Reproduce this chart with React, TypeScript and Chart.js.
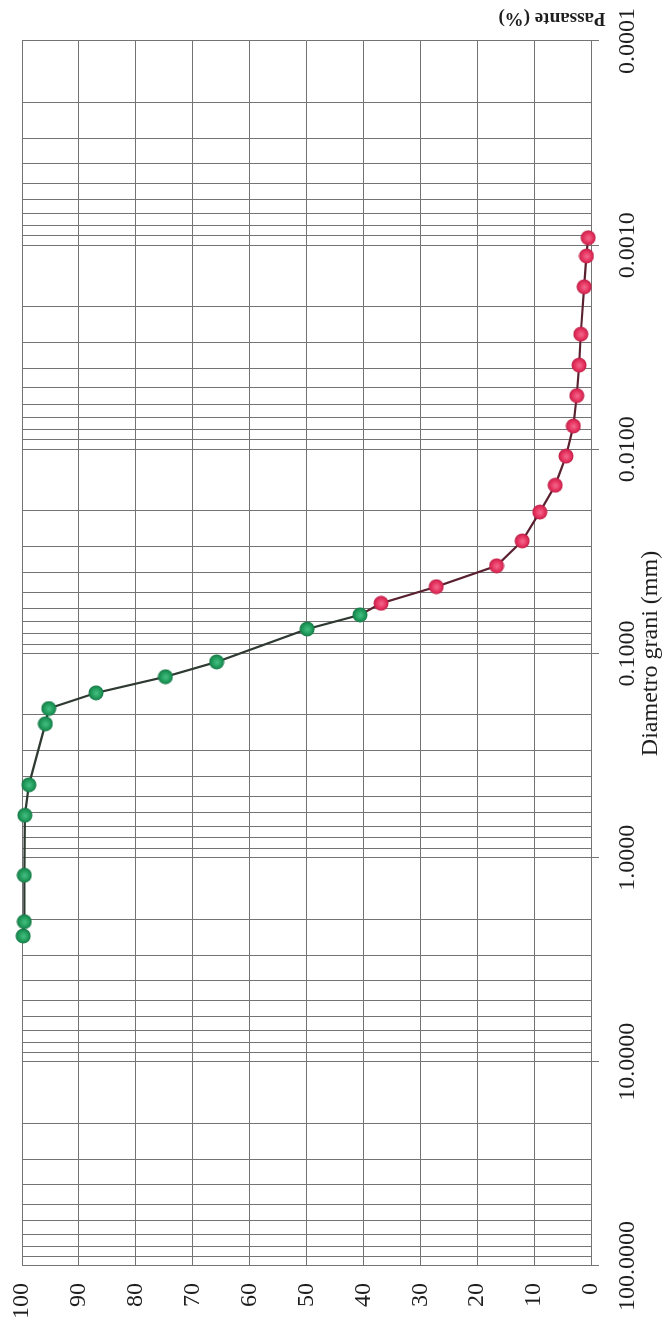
import { useEffect, useRef } from 'react';
import { Chart, registerables } from 'chart.js';

Chart.register(...registerables);

// Sieve analysis: grain diameter (mm) and passing (%)
const sieveDiameter = [2.42, 2.06, 1.22, 0.62, 0.44, 0.221, 0.186, 0.156, 0.13, 0.11, 0.0759, 0.0647];
const sievePassing = [99.8, 99.6, 99.6, 99.5, 98.8, 95.9, 95.3, 87.0, 74.8, 65.8, 49.9, 40.6];

// Sedimentation analysis: grain diameter (mm) and passing (%)
const hydroDiameter = [0.0568, 0.0471, 0.0372, 0.0281, 0.0203, 0.015, 0.0108, 0.00769, 0.00546, 0.00387, 0.00273, 0.0016, 0.00113, 0.00092];
const hydroPassing = [36.9, 27.2, 16.6, 12.1, 9.0, 6.3, 4.4, 3.1, 2.5, 2.1, 1.8, 1.2, 0.8, 0.5];

// Axis ticks
const diameterDecades = [100, 10, 1, 0.1, 0.01, 0.001, 0.0001];
const diameterLabels = ['100.0000', '10.0000', '1.0000', '0.1000', '0.0100', '0.0010', '0.0001'];
const decadeSteps = [1, 2, 3, 4, 5, 6, 7, 8, 9];
const passingTicks = [0, 10, 20, 30, 40, 50, 60, 70, 80, 90, 100];

const W = 1328;
const H = 665;
const GRID = '#737373';
const TEXT = '#1e1e1e';
const FONT = 'Liberation Serif';

function ball(light: string, base: string, dark: string): HTMLCanvasElement {
  const c = document.createElement('canvas');
  c.width = 16;
  c.height = 16;
  const g = c.getContext('2d')!;
  const grad = g.createRadialGradient(7.5, 8.5, 0.5, 8, 8, 8);
  grad.addColorStop(0, light);
  grad.addColorStop(0.6, base);
  grad.addColorStop(1, dark);
  g.fillStyle = grad;
  g.beginPath();
  g.arc(8, 8, 7.5, 0, Math.PI * 2);
  g.fill();
  return c;
}

function labelFor(value: number): string {
  for (let i = 0; i < diameterDecades.length; i++) {
    if (Math.abs(Math.log10(value) - Math.log10(diameterDecades[i])) < 1e-6) return diameterLabels[i];
  }
  return '';
}

const passanteTitle = {
  id: 'passanteTitle',
  afterDraw(chart: any) {
    const ctx = chart.ctx;
    ctx.save();
    ctx.translate(1310, 552);
    ctx.rotate(-Math.PI / 2);
    ctx.font = `bold 19px "${FONT}"`;
    ctx.fillStyle = TEXT;
    ctx.textAlign = 'center';
    ctx.textBaseline = 'middle';
    ctx.fillText('Passante (%)', 0, 0);
    ctx.restore();
  },
};

export default function App() {
  const ref = useRef<HTMLCanvasElement>(null);

  useEffect(() => {
    document.body.style.overflow = 'hidden';
    const green = ball('#43bd7f', '#1f9a5a', '#137040');
    const red = ball('#f2658a', '#e5305c', '#b51d45');

    const diam = [...sieveDiameter, ...hydroDiameter];
    const pass = [...sievePassing, ...hydroPassing];
    const points = diam.map((d, i) => ({ x: d, y: pass[i] }));
    const styles = diam.map((_, i) => (i < sieveDiameter.length ? green : red));

    const gridValues: number[] = [];
    diameterDecades
      .slice()
      .reverse()
      .forEach((d, k, arr) => {
        if (k === arr.length - 1) {
          gridValues.push(d);
          return;
        }
        decadeSteps.forEach((s) => gridValues.push(+(d * s).toPrecision(6)));
      });

    const chart = new Chart(ref.current!, {
      type: 'line',
      data: {
        datasets: [
          {
            data: points,
            borderWidth: 2.2,
            borderColor: '#2f3a33',
            segment: {
              borderColor: (c: any) => (c.p1DataIndex >= sieveDiameter.length ? '#5a2131' : '#2f3a33'),
            },
            pointStyle: styles as any,
            pointRadius: 7.5,
            tension: 0,
            clip: false as any,
          },
        ],
      },
      options: {
        animation: false,
        responsive: false,
        devicePixelRatio: 1,
        layout: { padding: { top: 22, right: 41, left: 0, bottom: 0 } },
        plugins: { legend: { display: false }, tooltip: { enabled: false } },
        scales: {
          x: {
            type: 'logarithmic',
            position: 'bottom',
            min: 0.0001,
            max: 100,
            reverse: true,
            afterBuildTicks(scale: any) {
              scale.ticks = gridValues.map((v) => ({ value: v, major: labelFor(v) !== '' }));
            },
            afterFit(scale: any) {
              scale.height = 74;
              scale.paddingLeft = 0;
              scale.paddingRight = 0;
            },
            grid: {
              color: GRID,
              lineWidth: 1,
              drawTicks: true,
              tickLength: 8,
              tickColor: (c: any) => (c.tick && c.tick.major ? GRID : 'rgba(0,0,0,0)'),
            },
            border: { color: GRID, width: 1 },
            ticks: {
              autoSkip: false,
              maxRotation: 0,
              minRotation: 0,
              padding: 14,
              color: TEXT,
              font: { family: FONT, size: 24 },
              callback: (v: any) => labelFor(Number(v)),
            },
            title: {
              display: true,
              text: 'Diametro grani (mm)',
              color: TEXT,
              font: { family: FONT, size: 24 },
              padding: { top: 0, bottom: 0 },
            },
          },
          y: {
            type: 'linear',
            position: 'left',
            min: 0,
            max: 100,
            afterBuildTicks(scale: any) {
              scale.ticks = passingTicks.map((v) => ({ value: v }));
            },
            afterFit(scale: any) {
              scale.width = 62;
              scale.paddingTop = 0;
              scale.paddingBottom = 0;
            },
            grid: { color: GRID, lineWidth: 1, drawTicks: false },
            border: { color: GRID, width: 1 },
            ticks: {
              padding: 17,
              color: TEXT,
              font: { family: FONT, size: 24 },
              callback: (v: any) => String(v),
            },
          },
        },
      },
      plugins: [passanteTitle],
    });

    return () => chart.destroy();
  }, []);

  return (
    <div
      style={{
        position: 'absolute',
        left: 0,
        top: 0,
        width: W,
        height: H,
        transformOrigin: '0 0',
        transform: `translateY(${W}px) rotate(-90deg)`,
      }}
    >
      <canvas ref={ref} width={W} height={H} style={{ display: 'block', width: W, height: H }} />
    </div>
  );
}
